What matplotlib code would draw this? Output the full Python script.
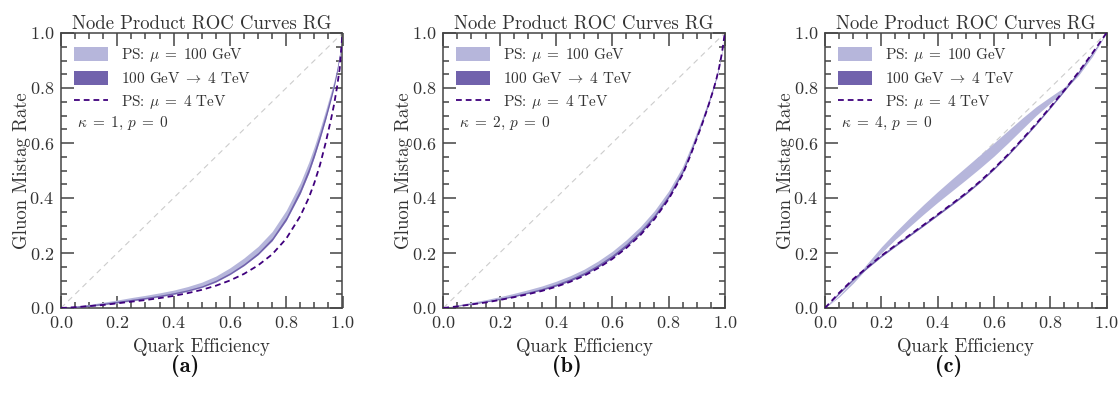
import matplotlib
matplotlib.use("Agg")
import matplotlib.pyplot as plt
from matplotlib.patches import Patch
from matplotlib.lines import Line2D
from matplotlib.ticker import MultipleLocator

plt.rcParams['font.family'] = 'serif'
plt.rcParams['font.serif'] = ['cmr10']
plt.rcParams['mathtext.fontset'] = 'cm'
plt.rcParams['axes.formatter.use_mathtext'] = True
plt.rcParams['axes.unicode_minus'] = False

# ---------------- data ----------------
x_a = [0, 0.05, 0.1, 0.15, 0.2, 0.25, 0.3, 0.35, 0.4, 0.45, 0.5, 0.55, 0.6, 0.65,
       0.7, 0.75, 0.8, 0.85, 0.88, 0.9, 0.92, 0.94, 0.96, 0.97, 0.98, 0.99, 1.0]
ps4_a = [0, 0.003, 0.007, 0.011, 0.017, 0.023, 0.029, 0.036, 0.044, 0.054, 0.066, 0.081, 0.100, 0.124,
         0.155, 0.195, 0.252, 0.334, 0.40, 0.455, 0.52, 0.60, 0.69, 0.74, 0.80, 0.87, 1.0]
evol_lo_a = [0, 0.0015, 0.0065, 0.0125, 0.0195, 0.0265, 0.0335, 0.0415, 0.0505, 0.0615, 0.0755, 0.095, 0.122, 0.1545,
             0.194, 0.245, 0.319, 0.417, 0.491, 0.55, 0.615, 0.685, 0.761, 0.802, 0.853, 0.915, 1.0]
evol_hi_a = [0, 0.0065, 0.0115, 0.0175, 0.0245, 0.0315, 0.0385, 0.0465, 0.0555, 0.0665, 0.0805, 0.101, 0.128, 0.1615,
             0.202, 0.255, 0.331, 0.433, 0.509, 0.57, 0.635, 0.705, 0.779, 0.818, 0.867, 0.925, 1.0]
ps100_lo_a = [0, 0.001, 0.005, 0.011, 0.018, 0.025, 0.032, 0.040, 0.049, 0.060, 0.074, 0.094, 0.121, 0.154,
              0.194, 0.245, 0.318, 0.416, 0.49, 0.55, 0.615, 0.686, 0.762, 0.803, 0.854, 0.916, 1.0]
ps100_hi_a = [0, 0.006, 0.013, 0.021, 0.029, 0.038, 0.046, 0.055, 0.065, 0.078, 0.094, 0.116, 0.146, 0.182,
              0.224, 0.278, 0.355, 0.455, 0.53, 0.588, 0.651, 0.719, 0.79, 0.827, 0.872, 0.928, 1.0]

x_b = [0, 0.05, 0.1, 0.15, 0.2, 0.25, 0.3, 0.35, 0.4, 0.45, 0.5, 0.55, 0.6, 0.65,
       0.7, 0.75, 0.8, 0.85, 0.88, 0.9, 0.92, 0.94, 0.96, 0.97, 0.98, 0.99, 1.0]
ps4_b = [0, 0.006, 0.013, 0.02, 0.029, 0.039, 0.05, 0.062, 0.077, 0.095, 0.117, 0.145, 0.178, 0.218,
         0.265, 0.323, 0.395, 0.485, 0.56, 0.615, 0.67, 0.73, 0.795, 0.832, 0.875, 0.928, 1.0]
evol_lo_b = [0, 0.007, 0.014, 0.022, 0.031, 0.041, 0.053, 0.065, 0.080, 0.098, 0.121, 0.149, 0.182, 0.222,
             0.270, 0.328, 0.400, 0.490, 0.565, 0.620, 0.675, 0.734, 0.799, 0.835, 0.878, 0.930, 1.0]
evol_hi_b = [0, 0.009, 0.017, 0.025, 0.035, 0.046, 0.058, 0.071, 0.087, 0.106, 0.129, 0.158, 0.192, 0.233,
             0.281, 0.339, 0.411, 0.501, 0.576, 0.630, 0.684, 0.743, 0.806, 0.841, 0.882, 0.933, 1.0]
ps100_lo_b = [0, 0.007, 0.014, 0.022, 0.031, 0.041, 0.053, 0.065, 0.080, 0.098, 0.121, 0.149, 0.182, 0.222,
              0.270, 0.328, 0.400, 0.490, 0.565, 0.620, 0.675, 0.734, 0.799, 0.835, 0.878, 0.930, 1.0]
ps100_hi_b = [0, 0.011, 0.021, 0.03, 0.041, 0.053, 0.066, 0.08, 0.097, 0.117, 0.141, 0.171, 0.206, 0.248,
              0.296, 0.354, 0.425, 0.514, 0.587, 0.64, 0.693, 0.75, 0.812, 0.846, 0.886, 0.935, 1.0]

x_c = [0, 0.05, 0.1, 0.15, 0.2, 0.25, 0.3, 0.35, 0.4, 0.45, 0.5, 0.55, 0.6, 0.65,
       0.7, 0.75, 0.8, 0.85, 0.9, 0.95, 1.0]
ps4_c = [0, 0.055, 0.105, 0.148, 0.19, 0.228, 0.265, 0.302, 0.34, 0.378, 0.417, 0.46, 0.507, 0.558,
         0.613, 0.67, 0.73, 0.792, 0.857, 0.927, 1.0]
evol_lo_c = [0, 0.051, 0.101, 0.144, 0.186, 0.224, 0.261, 0.298, 0.336, 0.374, 0.413, 0.456, 0.503, 0.554,
             0.609, 0.666, 0.726, 0.788, 0.853, 0.924, 1.0]
evol_hi_c = [0, 0.059, 0.109, 0.152, 0.194, 0.232, 0.269, 0.306, 0.344, 0.382, 0.421, 0.464, 0.511, 0.562,
             0.617, 0.674, 0.734, 0.796, 0.861, 0.930, 1.0]
ps100_lo_c = [0, 0.04, 0.09, 0.146, 0.2, 0.25, 0.296, 0.341, 0.384, 0.425, 0.466, 0.508, 0.552, 0.6,
              0.65, 0.70, 0.745, 0.792, 0.845, 0.915, 1.0]
ps100_hi_c = [0, 0.046, 0.1, 0.162, 0.222, 0.276, 0.327, 0.376, 0.423, 0.468, 0.512, 0.556, 0.6, 0.645,
              0.69, 0.732, 0.768, 0.803, 0.856, 0.923, 1.0]

kappas = [1, 2, 4]
captions = ['(a)', '(b)', '(c)']
title = 'Node Product ROC Curves RG'
labels = [r'PS: $\mu \;=\; 100$ GeV', r'100 GeV$\;\rightarrow\;$4 TeV', r'PS: $\mu \;=\; 4$ TeV']

panels = [
    (x_a, ps4_a, evol_lo_a, evol_hi_a, ps100_lo_a, ps100_hi_a),
    (x_b, ps4_b, evol_lo_b, evol_hi_b, ps100_lo_b, ps100_hi_b),
    (x_c, ps4_c, evol_lo_c, evol_hi_c, ps100_lo_c, ps100_hi_c),
]

light = '#b6b6db'
dark = '#7162ac'
dash_c = '#3f007d'
txt = '#333333'
spine_c = '#444444'

fig = plt.figure(figsize=(11.2, 4.03), dpi=100)
lefts = [61 / 1120, 443.3 / 1120, 825 / 1120]
w = 281.5 / 1120
bottom = 1 - 308 / 403
h = 275 / 403
cap_x = [185 / 1120, 567 / 1120, 949 / 1120]

for i, (xs, ps4, elo, ehi, plo, phi) in enumerate(panels):
    ax = fig.add_axes([lefts[i], bottom, w, h])
    ax.plot([0, 1], [0, 1], color='#cccccc', lw=0.8, ls=(0, (5, 4)), zorder=1)
    ax.fill_between(xs, plo, phi, color=light, lw=0, zorder=2)
    ax.fill_between(xs, elo, ehi, color=dark, lw=0, zorder=3)
    ax.plot(xs, ps4, color=dash_c, lw=1.3, ls=(0, (3.2, 2.2)), zorder=4)
    ax.set_xlim(0, 1)
    ax.set_ylim(0, 1)
    ax.xaxis.set_major_locator(MultipleLocator(0.2))
    ax.yaxis.set_major_locator(MultipleLocator(0.2))
    ax.xaxis.set_minor_locator(MultipleLocator(0.05))
    ax.yaxis.set_minor_locator(MultipleLocator(0.05))
    ax.tick_params(which='both', direction='in', top=True, right=True,
                   colors=spine_c, labelcolor=txt, labelsize=13, width=1.1)
    ax.tick_params(which='major', length=9, pad=5)
    ax.tick_params(which='minor', length=4.5)
    for s in ax.spines.values():
        s.set_color(spine_c)
        s.set_linewidth(1.1)
    ax.set_title(title, fontsize=13.5, color=txt, pad=3)
    ax.set_xlabel('Quark Efficiency', fontsize=13.5, color=txt, labelpad=5)
    ax.set_ylabel('Gluon Mistag Rate', fontsize=13.5, color=txt, labelpad=-1)
    handles = [Patch(facecolor=light, edgecolor='none'),
               Patch(facecolor=dark, edgecolor='none'),
               Line2D([], [], color=dash_c, lw=1.3, ls=(0, (3.2, 2.2)))]
    leg = ax.legend(handles, labels, loc='upper left', frameon=False,
                    fontsize=11, handlelength=2.2, handleheight=1.0,
                    borderaxespad=0.45, labelspacing=0.45, handletextpad=0.85)
    for t in leg.get_texts():
        t.set_color(txt)
    ax.text(0.057, 0.67, r'$\kappa \;=\; %d$, $p \;=\; 0$' % kappas[i], fontsize=11,
            color=txt, transform=ax.transAxes, va='center', ha='left')
    fig.text(cap_x[i], 1 - 366 / 403, captions[i], fontsize=16, family='cmb10',
             ha='center', va='center', color='#111111')

fig.savefig('out.png', dpi=100)
